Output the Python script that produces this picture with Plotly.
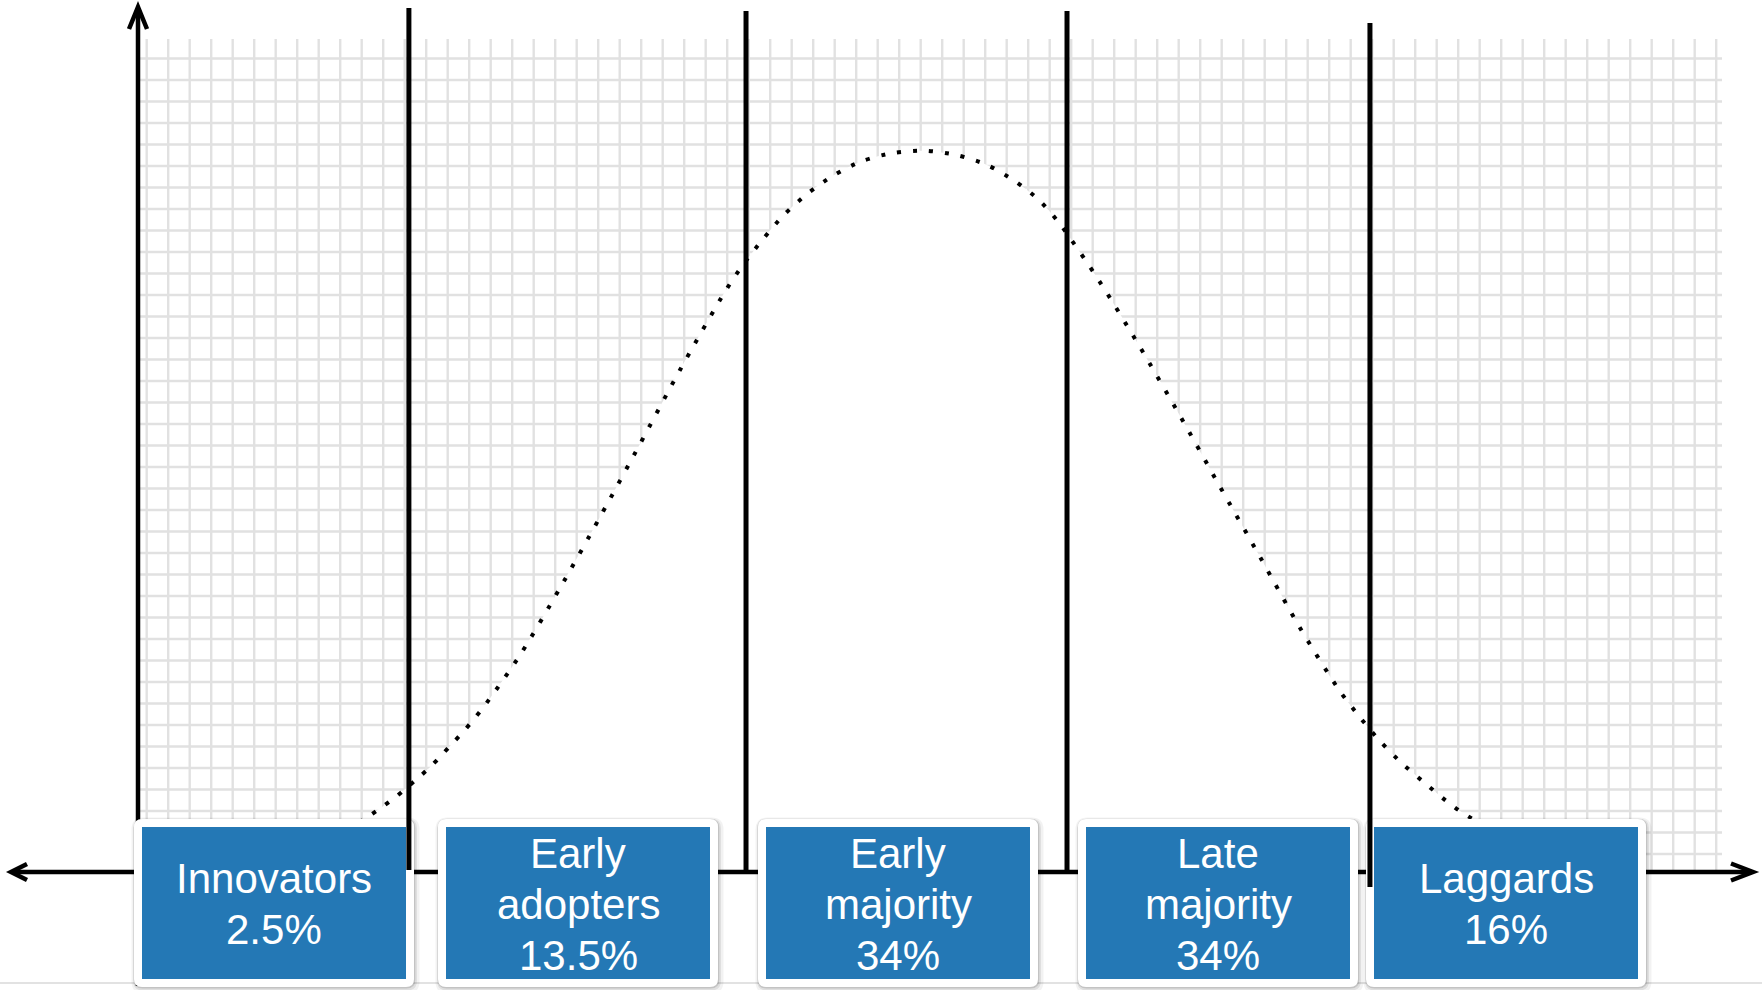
import plotly.graph_objects as go

# ---------------- data ----------------
categories = ["Innovators", "Early adopters", "Early majority", "Late majority", "Laggards"]
shares = [2.5, 13.5, 34, 34, 16]

# adoption curve (grid-cell units; origin at axes crossing)
curve_x = [1.02, 2.88, 4.74, 6.60, 8.47, 9.86, 10.74, 11.35, 11.95, 12.50, 13.08, 13.64,
           14.15, 14.65, 15.16, 15.64, 16.11, 17.77, 19.63, 21.49, 23.35, 25.21, 27.30,
           28.13, 29.04, 30.01, 31.10, 32.33, 33.66, 35.10, 36.56, 38.05, 39.46, 40.76,
           41.92, 42.88, 44.74, 46.60, 48.47, 50.33, 52.19, 54.05, 55.86, 56.76, 57.72,
           58.76, 59.86, 61.04, 61.63, 62.88, 64.28, 66.14, 68.00, 69.40]
curve_y = [0, 0.09, 0.33, 0.65, 1.35, 2.05, 2.60, 3.02, 3.46, 3.92, 4.42, 4.93,
           5.47, 6.01, 6.56, 7.13, 7.72, 10.09, 13.21, 16.51, 19.91, 23.35, 26.99,
           28.23, 29.40, 30.53, 31.52, 32.39, 33.06, 33.44, 33.55, 33.35, 32.90, 32.15,
           31.24, 30.14, 27.44, 24.42, 21.21, 17.91, 14.65, 11.35, 8.47, 7.29, 6.14,
           5.08, 4.13, 3.15, 2.74, 2.00, 1.30, 0.65, 0.23, 0]

# segment boundaries (grid-cell units)
boundaries = [12.60, 28.28, 43.21, 57.30]

# ---------------- layout helpers (positions / styles) ----------------
W, H = 1762, 990
CELL = 21.5          # pixels per grid cell
OX, OY = 138, 872    # pixel position of the axes crossing


def ux(px):
    return (px - OX) / CELL


def uy(py):
    return (OY - py) / CELL


GRID_X_END = ux(1722)
GRID_Y_END = uy(39)
GRID_X0 = ux(146.7)
GRID_Y0 = uy(854)

sep_tops = [uy(8), uy(11), uy(11), uy(23)]
sep_bottoms = [uy(870), uy(872), uy(872), uy(887)]

box_cx = [ux(274), ux(578), ux(898), ux(1218), ux(1506)]
box_cy = uy(903)
box_hw = 132 / CELL
box_hh = 76 / CELL
border = 8 / CELL
radius = 8 / CELL

BLUE = "#2478b5"
GRID = "#e1e1e1"
FONT = "Liberation Sans, Arial, sans-serif"
FS = 42
LINE_GAP = 51

fig = go.Figure()

# grid (drawn as data lines so the curve fill can hide it)
gx, gy = [], []
k = 0
while GRID_X0 + k <= GRID_X_END:
    gx += [GRID_X0 + k, GRID_X0 + k, None]
    gy += [0, GRID_Y_END, None]
    k += 1
k = 0
while GRID_Y0 + k <= GRID_Y_END:
    gx += [0, GRID_X_END, None]
    gy += [GRID_Y0 + k, GRID_Y0 + k, None]
    k += 1
fig.add_trace(go.Scatter(x=gx, y=gy, mode="lines", line=dict(color=GRID, width=2.4),
                         hoverinfo="skip", showlegend=False))

# adoption curve
fig.add_trace(go.Scatter(x=curve_x, y=curve_y, mode="lines", fill="tozeroy",
                         fillcolor="white",
                         line=dict(color="black", width=4, dash="4px,12px",
                                   shape="spline", smoothing=0.8),
                         hoverinfo="skip", showlegend=False))

shapes = []
# faint bottom rule
shapes.append(dict(type="line", x0=ux(0), x1=ux(W), y0=uy(983), y1=uy(983),
                   line=dict(color="#d9d9d9", width=1.5), layer="above"))
# axes
shapes.append(dict(type="line", x0=0, x1=0, y0=uy(986), y1=uy(8),
                   line=dict(color="black", width=4.5), layer="above"))
shapes.append(dict(type="line", x0=ux(12), x1=ux(1752), y0=0, y1=0,
                   line=dict(color="black", width=4.5), layer="above"))


def chevron(a, tip, b):
    return (f"M{a[0]},{a[1]} L{tip[0]},{tip[1]} L{b[0]},{b[1]}")


arrow_style = dict(type="path", line=dict(color="black", width=4.5), layer="above")
shapes.append(dict(path=chevron((ux(129), uy(29)), (ux(138), uy(7)), (ux(147), uy(29))), **arrow_style))
shapes.append(dict(path=chevron((ux(27), uy(864)), (ux(11), uy(872)), (ux(27), uy(880))), **arrow_style))
shapes.append(dict(path=chevron((ux(1731), uy(863.5)), (ux(1753), uy(872)), (ux(1731), uy(880.5))), **arrow_style))


def rrect(x0, y0, x1, y1, r):
    return (f"M{x0 + r},{y0} L{x1 - r},{y0} Q{x1},{y0} {x1},{y0 + r} "
            f"L{x1},{y1 - r} Q{x1},{y1} {x1 - r},{y1} L{x0 + r},{y1} "
            f"Q{x0},{y1} {x0},{y1 - r} L{x0},{y0 + r} Q{x0},{y0} {x0 + r},{y0} Z")


for cx in box_cx:
    x0, x1 = cx - box_hw - border, cx + box_hw + border
    y0, y1 = box_cy - box_hh - border, box_cy + box_hh + border
    # soft shadow
    for grow, dx, dy, op in [(4, 1.5, -2.5, 0.05), (2, 1, -1.5, 0.08), (0.8, 0.5, -0.8, 0.12)]:
        g = grow / CELL
        shapes.append(dict(type="path",
                           path=rrect(x0 - g + dx / CELL, y0 - g + dy / CELL,
                                      x1 + g + dx / CELL, y1 + g + dy / CELL, radius + g),
                           fillcolor=f"rgba(0,0,0,{op})", line=dict(width=0), layer="above"))
    shapes.append(dict(type="path", path=rrect(x0, y0, x1, y1, radius),
                       fillcolor="white", line=dict(width=0), layer="above"))
    shapes.append(dict(type="rect", x0=cx - box_hw, x1=cx + box_hw,
                       y0=box_cy - box_hh, y1=box_cy + box_hh,
                       fillcolor=BLUE, line=dict(width=0), layer="above"))

# segment separators
for bx, top, bot in zip(boundaries, sep_tops, sep_bottoms):
    shapes.append(dict(type="line", x0=bx, x1=bx, y0=bot, y1=top,
                       line=dict(color="black", width=5), layer="above"))

# labels
annotations = []
for cat, share, cx in zip(categories, shares, box_cx):
    lines = cat.split(" ") + [f"{share:g}%"]
    n = len(lines)
    for i, txt in enumerate(lines):
        cpx = 904 + (i - (n - 1) / 2) * LINE_GAP
        annotations.append(dict(x=cx, y=uy(cpx), text=txt, showarrow=False,
                                xanchor="center", yanchor="middle",
                                font=dict(family=FONT, size=FS, color="white")))

fig.update_layout(
    width=W, height=H,
    margin=dict(l=0, r=0, t=0, b=0),
    paper_bgcolor="white", plot_bgcolor="white",
    xaxis=dict(range=[ux(0), ux(W)], visible=False, fixedrange=True),
    yaxis=dict(range=[uy(H), uy(0)], visible=False, fixedrange=True),
    shapes=shapes, annotations=annotations,
    showlegend=False, hovermode=False,
)

fig.write_html("out.html", config={"displayModeBar": False},
               post_script="document.body.style.margin='0px';"
                           "document.body.style.overflow='hidden';")
